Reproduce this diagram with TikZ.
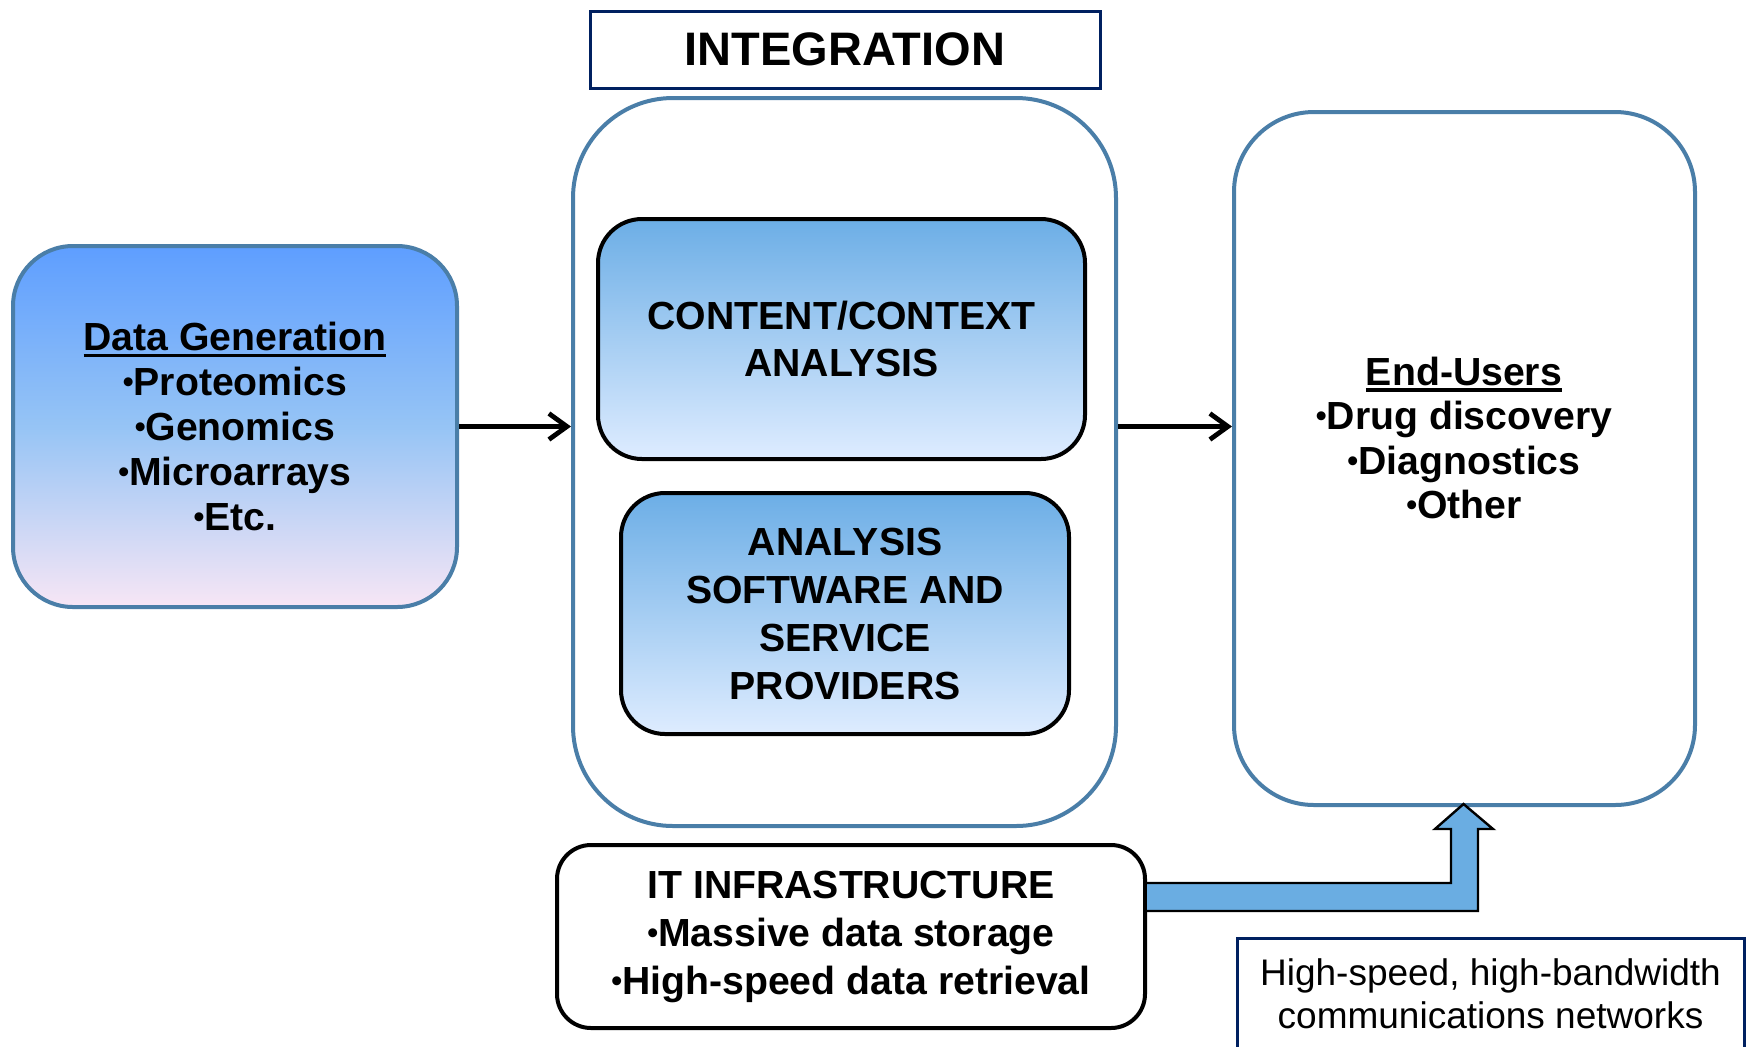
\documentclass[tikz,border=0pt]{standalone}
\usepackage{fontspec}
\setmainfont{Liberation Sans}
\newcommand{\myulbox}[1]{\leavevmode\setbox0\hbox{#1}\rlap{\copy0}\vrule height -1.6pt depth 3.4pt width \wd0\relax}
\newcommand{\bul}{\raisebox{1.4pt}{\fontsize{15.5}{15.5}\selectfont •}}
\usetikzlibrary{arrows.meta,calc}
\definecolor{steel}{RGB}{74,126,168}
\definecolor{navy}{RGB}{0,32,96}
\definecolor{arrowblue}{RGB}{106,173,226}
\definecolor{dgtop}{RGB}{94,158,255}
\definecolor{dgmid}{RGB}{150,196,245}
\definecolor{dgbot}{RGB}{247,230,245}
\definecolor{cctop}{RGB}{108,174,230}
\definecolor{ccbot}{RGB}{222,236,255}
\begin{document}
\begin{tikzpicture}[x=0.5pt,y=-0.5pt,
  bodyfont/.style={font=\bfseries\fontsize{19.6}{#1}\selectfont},
  steelbox/.style={draw=steel, line width=2pt, fill=white, align=center, inner sep=0pt},
  blackbox/.style={draw=black, line width=2pt, align=center, inner sep=0pt},
  gradbox/.style={blackbox, top color=cctop, bottom color=ccbot, rounded corners=22pt},
  flow/.style={line width=2.4pt, -{Straight Barb[length=9pt,width=13pt]}},
  bluearrow/.style={fill=arrowblue, draw=black, line width=1.2pt, line join=miter}]
\useasboundingbox (0,0) rectangle (1746,1046);
\clip (0,0) rectangle (1746,1046);
\fill[white] (0,0) rectangle (1746,1046);

% title
\node[draw=navy, line width=1.5pt, minimum width=255pt, minimum height=38.5pt,
      font=\bfseries\fontsize{23.5}{28}\selectfont] (integ) at (845,49.5) {INTEGRATION};

% integration container
\node[steelbox, rounded corners=50pt, minimum width=271.5pt, minimum height=364pt] (intbig) at (844.5,462) {};

% inner boxes
\node[gradbox, minimum width=243.5pt, minimum height=120pt, bodyfont=23.5pt] (cc) at (841.5,339)
  {CONTENT/CONTEXT\\ANALYSIS};
\node[gradbox, minimum width=224pt, minimum height=120.5pt, bodyfont=24pt] (asp) at (845,613.5)
  {ANALYSIS\\SOFTWARE AND\\SERVICE\\PROVIDERS};

% data generation
\node[draw=steel, line width=2pt, rounded corners=30pt, align=center, inner sep=0pt,
      top color=dgtop, bottom color=dgbot, middle color=dgmid,
      minimum width=222pt, minimum height=180.5pt, bodyfont=22.5pt] (dg) at (235,426.5)
  {\myulbox{Data Generation}\\\bul Proteomics\\\bul Genomics\\\bul Microarrays\\\bul Etc.};

% end users
\node[steelbox, rounded corners=40pt, minimum width=230.5pt, minimum height=346.5pt] (eu) at (1464.5,458.5) {};
\node[align=center, inner sep=0pt, bodyfont=22.25pt] (eutext) at (1464,438)
  {\myulbox{End-Users}\\\bul Drug discovery\\\bul Diagnostics\\\bul Other};

% IT infrastructure
\node[blackbox, fill=white, rounded corners=17pt, minimum width=294pt, minimum height=91.5pt, bodyfont=24pt] (it) at (851,936.5)
  {IT INFRASTRUCTURE\\\bul Massive data storage\\\bul High-speed data retrieval};

% network label
\node[draw=navy, line width=1.5pt, minimum width=253.5pt, minimum height=56pt, align=center,
      font=\fontsize{18.5}{21.75}\selectfont] (net) at (1490.5,994)
  {High-speed, high-bandwidth\\communications networks};

% connectors
\draw[flow] (dg.east) -- (dg.east -| intbig.west);
\draw[flow] (intbig.east |- dg.east) -- (eu.west |- dg.east);

% bent block arrow from IT infrastructure to end users
\coordinate (tip) at ($(eu.south)+(-1,-3)$);
\filldraw[bluearrow] (it.east |- 0,911) -- (1478,911) -- (1478,829) -- (1493,829) -- (tip)
  -- (1435,829) -- (1451,829) -- (1451,883) -- (it.east |- 0,883);
\end{tikzpicture}
\end{document}
